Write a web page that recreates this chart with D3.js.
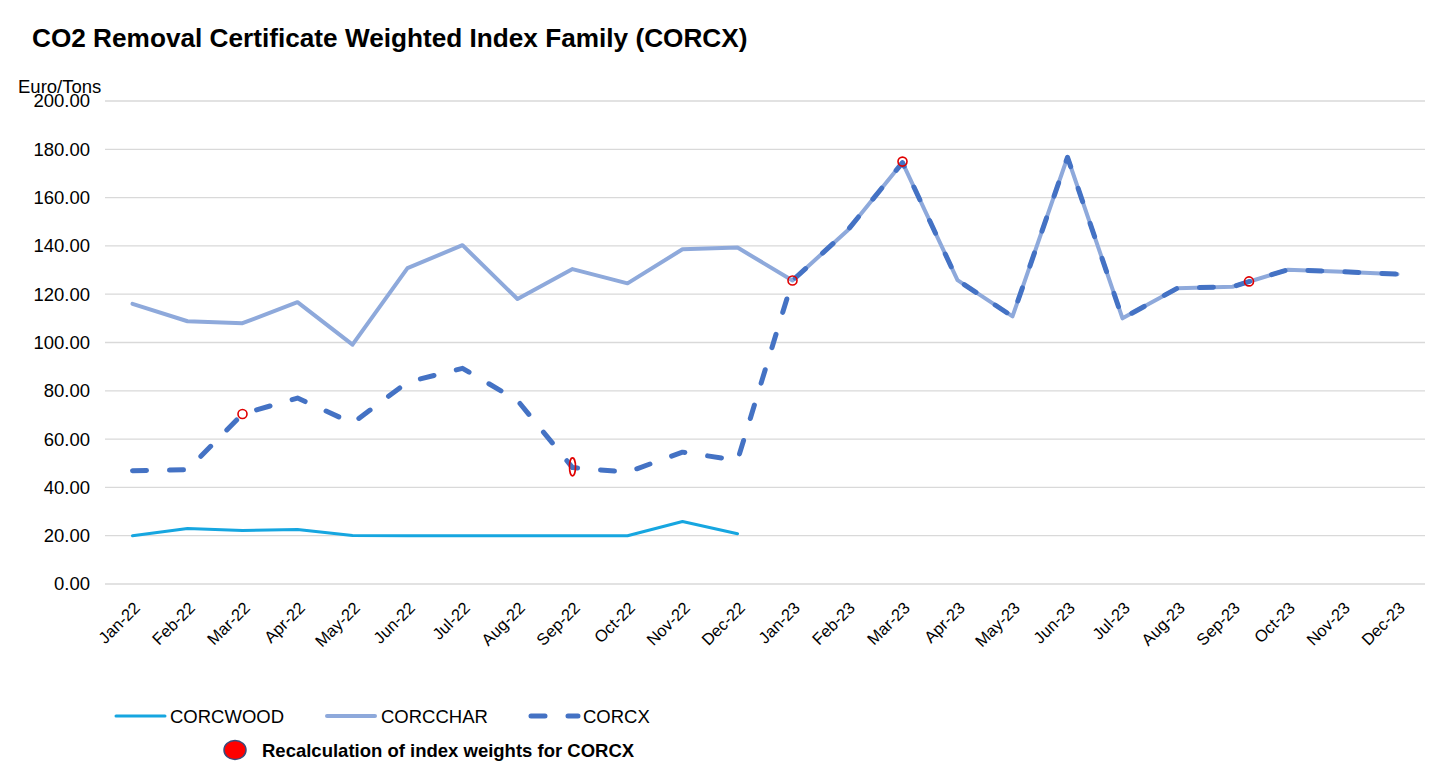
<!DOCTYPE html>
<html>
<head>
<meta charset="utf-8">
<script src="https://cdn.jsdelivr.net/npm/d3@7"></script>
<style>
  html, body { margin: 0; padding: 0; background: #fff; }
  svg { display: block; font-family: "Liberation Sans", Arial, sans-serif; }
</style>
</head>
<body>
<svg id="chart" width="1456" height="776"></svg>
<script>
// ---- data ----
const months = ["Jan-22","Feb-22","Mar-22","Apr-22","May-22","Jun-22","Jul-22","Aug-22","Sep-22","Oct-22","Nov-22","Dec-22",
                "Jan-23","Feb-23","Mar-23","Apr-23","May-23","Jun-23","Jul-23","Aug-23","Sep-23","Oct-23","Nov-23","Dec-23"];
const corcwood = [20.0, 23.0, 22.2, 22.6, 20.1, 20.0, 20.0, 20.0, 20.0, 20.0, 25.9, 20.8];
const corcchar = [116.0, 108.8, 108.0, 116.7, 99.1, 130.8, 140.3, 118.0, 130.4, 124.5, 138.6, 139.3,
                  125.7, 146.4, 174.5, 125.8, 110.8, 176.7, 110.0, 122.5, 123.1, 130.1, 129.3, 128.3];
const corcx    = [46.9, 47.3, 70.4, 77.0, 66.6, 83.6, 89.3, 76.0, 48.2, 46.3, 54.6, 51.2,
                  125.7, 146.4, 174.5, 125.8, 110.8, 176.7, 110.0, 122.5, 123.1, 130.1, 129.3, 128.3];
// recalculation points: month position (index in months, may be fractional) and value
const recalcPos   = [2, 8, 12, 14, 20.3];
const recalcValue = [70.4, 48.5, 125.7, 174.9, 125.3];
const recalcTall  = [false, true, false, false, false];
const yTicks = [0, 20, 40, 60, 80, 100, 120, 140, 160, 180, 200];
const seriesNames = ["CORCWOOD", "CORCCHAR", "CORCX"];

// ---- layout ----
const svg = d3.select("#chart");
const plotL = 105, plotR = 1425, plotT = 101, plotB = 584;

const x = d3.scaleLinear().domain([-0.5, months.length - 0.5]).range([plotL, plotR]);
const y = d3.scaleLinear().domain([0, 200]).range([plotB, plotT]);

// title
svg.append("text").attr("x", 32).attr("y", 47)
  .attr("font-size", 26.2).attr("font-weight", "bold").attr("fill", "#000")
  .text("CO2 Removal Certificate Weighted Index Family (CORCX)");

// gridlines
svg.append("g").selectAll("line").data(yTicks).join("line")
  .attr("x1", plotL).attr("x2", plotR)
  .attr("y1", d => y(d)).attr("y2", d => y(d))
  .attr("stroke", "#d9d9d9").attr("stroke-width", 1.3);

// y axis labels
const yAxis = d3.axisLeft(y).tickValues(yTicks).tickFormat(d3.format(".2f")).tickSize(0).tickPadding(15);
const gy = svg.append("g").attr("transform", `translate(${plotL},0)`).call(yAxis);
gy.select(".domain").remove();
gy.selectAll("text").attr("font-size", 18.5).attr("fill", "#000")
  .attr("font-family", "Liberation Sans, Arial, sans-serif");

// unit label
svg.append("text").attr("x", 18).attr("y", 93)
  .attr("font-size", 18.5).attr("fill", "#000").text("Euro/Tons");

// x axis labels
const xAxis = d3.axisBottom(x).tickValues(d3.range(months.length)).tickFormat(i => months[i]).tickSize(0);
const gx = svg.append("g").attr("transform", `translate(0,${plotB})`).call(xAxis);
gx.select(".domain").remove();
gx.selectAll("text")
  .attr("font-size", 16.5).attr("fill", "#000")
  .attr("font-family", "Liberation Sans, Arial, sans-serif")
  .attr("text-anchor", "end")
  .attr("dy", null).attr("y", 0)
  .attr("transform", "translate(8,25) rotate(-45)");

const line = d3.line().x((d, i) => x(i)).y(d => y(d));

// CORCWOOD
svg.append("path").datum(corcwood).attr("d", line)
  .attr("fill", "none").attr("stroke", "#16A6E0").attr("stroke-width", 3)
  .attr("stroke-linejoin", "round").attr("stroke-linecap", "round");
// CORCCHAR
svg.append("path").datum(corcchar).attr("d", line)
  .attr("fill", "none").attr("stroke", "#8EA9DB").attr("stroke-width", 4)
  .attr("stroke-linejoin", "round").attr("stroke-linecap", "round");
// CORCX
svg.append("path").datum(corcx).attr("d", line)
  .attr("fill", "none").attr("stroke", "#4472C4").attr("stroke-width", 5)
  .attr("stroke-dasharray", "14,23")
  .attr("stroke-linejoin", "round").attr("stroke-linecap", "round");

// recalculation markers
svg.append("g").selectAll("ellipse").data(recalcPos).join("ellipse")
  .attr("cx", d => x(d)).attr("cy", (d, i) => y(recalcValue[i]))
  .attr("rx", (d, i) => recalcTall[i] ? 3 : 4.5)
  .attr("ry", (d, i) => recalcTall[i] ? 9 : 4.5)
  .attr("fill", "none").attr("stroke", "#E00000").attr("stroke-width", 1.6);

// legend
const leg = svg.append("g");
const legItems = [
  {name: seriesNames[0], x0: 116, x1: 165, tx: 170, color: "#16A6E0", w: 3, dash: null},
  {name: seriesNames[1], x0: 327, x1: 375, tx: 381, color: "#8EA9DB", w: 4, dash: null},
  {name: seriesNames[2], x0: 531, x1: 578, tx: 583, color: "#4472C4", w: 5, dash: "14,23"}
];
legItems.forEach(it => {
  leg.append("line").attr("x1", it.x0).attr("x2", it.x1)
    .attr("y1", 716).attr("y2", 716)
    .attr("stroke", it.color).attr("stroke-width", it.w)
    .attr("stroke-linecap", "round")
    .attr("stroke-dasharray", it.dash);
  leg.append("text").attr("x", it.tx).attr("y", 722.5)
    .attr("font-size", 18.5).attr("fill", "#000").text(it.name);
});
leg.append("ellipse").attr("cx", 235).attr("cy", 750).attr("rx", 11).attr("ry", 9.5)
  .attr("fill", "#FF0000").attr("stroke", "#3B4A7A").attr("stroke-width", 1.5);
leg.append("text").attr("x", 262).attr("y", 756.5)
  .attr("font-size", 18.5).attr("font-weight", "bold").attr("fill", "#000")
  .text("Recalculation of index weights for CORCX");
</script>
</body>
</html>
